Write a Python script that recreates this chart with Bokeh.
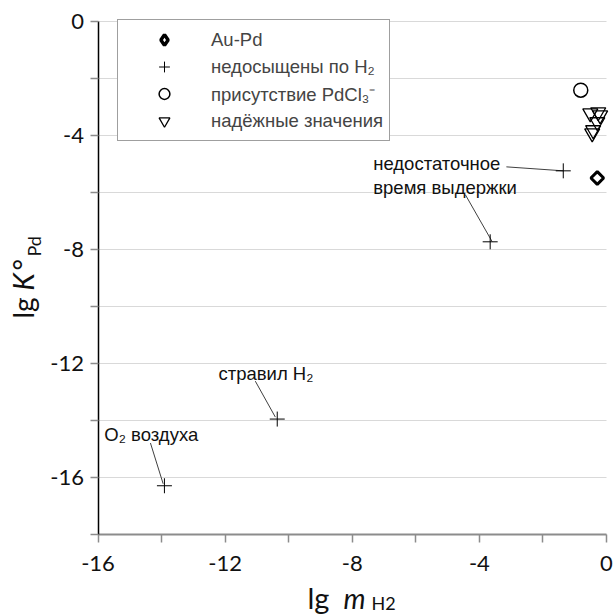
import math
from bokeh.plotting import figure
from bokeh.models import (FixedTicker, Legend, LegendItem, Label, Range1d, LinearAxis, Grid)
from bokeh.embed import file_html
from bokeh.resources import INLINE

# ---- data ----
au_pd_x = [-0.29]
au_pd_y = [-5.49]

unsat_x = [-1.36, -3.66, -10.36, -13.91]
unsat_y = [-5.24, -7.73, -13.95, -16.29]

pdcl_x = [-0.81]
pdcl_y = [-2.41]

reliable_x = [-0.51, -0.26, -0.20, -0.29, -0.42, -0.45]
reliable_y = [-3.22, -3.18, -3.29, -3.53, -3.81, -3.92]

legend_labels = ["Au-Pd", "недосыщены по H₂", "присутствие PdCl₃⁻", "надёжные значения"]

note_texts = ["недостаточное", "время выдержки", "стравил H₂", "O₂ воздуха"]
note_x = [-7.34, -7.34, -12.21, -15.80]
note_y = [-4.97, -5.84, -12.34, -14.48]

lead_x0 = [-3.15, -4.44, -11.05, -14.35]
lead_y0 = [-5.10, -6.08, -12.62, -14.79]
lead_x1 = [-1.36, -3.60, -10.42, -13.95]
lead_y1 = [-5.24, -7.72, -13.88, -16.22]

x_min, x_max = -16, 0
y_min, y_max = -18, 0
x_ticks = list(range(-16, 1, 2))
x_labels = [-16, -12, -8, -4, 0]
y_ticks = list(range(-18, 1, 2))
y_labels = [-16, -12, -8, -4, 0]

# ---- layout geometry (pixels) ----
W, H = 615, 614
plot_left, plot_right, plot_top, plot_bottom = 97.5, 606.0, 21.0, 534.0
sx = (plot_right - plot_left) / (x_max - x_min)
sy = (plot_bottom - plot_top) / (y_max - y_min)
xr = Range1d(x_min - plot_left / sx, x_max + (W - plot_right) / sx)
yr = Range1d(y_min - (H - plot_bottom) / sy, y_max + plot_top / sy)

p = figure(output_backend="svg", toolbar_location=None, width=W, height=H,
           x_range=xr, y_range=yr, x_axis_location=None, y_axis_location=None,
           min_border=0)
p.outline_line_color = None
p.background_fill_color = "white"
p.border_fill_color = "white"
for g in list(p.xgrid) + list(p.ygrid):
    g.visible = False

grid = Grid(dimension=1, ticker=FixedTicker(ticks=y_ticks), bounds=(y_min, y_max),
            cross_bounds=(x_min, x_max), grid_line_color="#d9d9d9", grid_line_width=1.2)
p.add_layout(grid)

tick_font = "Lato"
xaxis = LinearAxis(fixed_location=y_min, bounds=(x_min, x_max), ticker=FixedTicker(ticks=x_ticks))
xaxis.major_label_overrides = {t: (str(t) if t in x_labels else "") for t in x_ticks}
yaxis = LinearAxis(fixed_location=x_min, bounds=(y_min, y_max), ticker=FixedTicker(ticks=y_ticks))
yaxis.major_label_overrides = {t: (str(t) if t in y_labels else "") for t in y_ticks}
for ax in (xaxis, yaxis):
    ax.minor_tick_line_color = None
    ax.major_tick_in = 0
    ax.major_tick_out = 8
    ax.major_tick_line_color = "#8c8c8c"
    ax.major_tick_line_width = 1.5
    ax.major_label_text_font = tick_font
    ax.major_label_text_font_size = "22px"
    ax.major_label_text_color = "#111111"
xaxis.axis_line_color = "#8c8c8c"
xaxis.axis_line_width = 2
xaxis.major_label_standoff = 13
yaxis.axis_line_color = "black"
yaxis.axis_line_width = 1.5
yaxis.major_label_standoff = 6
p.add_layout(xaxis, "below")
p.add_layout(yaxis, "left")

# leader lines
p.segment(x0=lead_x0, y0=lead_y0, x1=lead_x1, y1=lead_y1, line_color="#404040", line_width=1)

# markers
r_au = p.scatter(au_pd_x, au_pd_y, marker="square", angle=math.pi / 4, size=9,
                 line_color="black", line_width=3, fill_color="white")
r_au_leg = p.scatter(au_pd_x, au_pd_y, marker="diamond", size=12, visible=False,
                     line_color="black", line_width=3.5, fill_color="white")
r_un = p.scatter(unsat_x, unsat_y, marker="cross", size=15, line_color="black", line_width=1)
r_pd = p.scatter(pdcl_x, pdcl_y, marker="circle", size=14, line_color="black",
                 line_width=1.5, fill_color="white")
r_rel = p.scatter(reliable_x, reliable_y, marker="inverted_triangle", size=15,
                  line_color="black", line_width=1.3, fill_color=None)

leg_rows, leg_row_h, leg_pad = 4, 27, 6
leg_h = 2 * leg_pad + leg_rows * leg_row_h
legend = Legend(items=[LegendItem(label=legend_labels[0], renderers=[r_au_leg]),
                       LegendItem(label=legend_labels[1], renderers=[r_un]),
                       LegendItem(label=legend_labels[2], renderers=[r_pd]),
                       LegendItem(label=legend_labels[3], renderers=[r_rel])],
                location=(117, H - plot_top - leg_h), glyph_width=80,
                glyph_height=leg_row_h, label_height=leg_row_h,
                spacing=0, padding=leg_pad, label_standoff=7, margin=0,
                label_text_font="Liberation Sans", label_text_font_size="18.5px",
                label_text_baseline="middle",
                border_line_color="#404040", border_line_width=1.5,
                background_fill_color="white", background_fill_alpha=1)
p.add_layout(legend)

# annotations
for t, x, y in zip(note_texts, note_x, note_y):
    p.add_layout(Label(x=x, y=y, text=t, text_font="Liberation Sans", text_font_size="18.5px",
                       text_baseline="middle", text_align="left", text_color="#111111"))

# axis titles composed of pieces (screen units from figure bottom-left)
def piece(x, y, text, size, style="normal", angle=0.0):
    p.add_layout(Label(x=x, y=y, x_units="screen", y_units="screen", text=text,
                       text_font="Lato", text_font_size=size, text_font_style=style,
                       text_baseline="alphabetic", text_align="left", angle=angle,
                       text_color="#111111"))

piece(307, 17, "lg", "29px")
piece(343, 17, "m", "28px", "italic")
piece(371, 12, "H2", "18px")

a = math.pi / 2
piece(22, 296, "lg", "28px", angle=a)
piece(22, 324, "K", "28px", "italic", angle=a)
piece(22, 344, "°", "28px", angle=a)
piece(33, 358, "Pd", "18px", angle=a)

open("out.html", "w", encoding="utf-8").write(file_html(p, INLINE))
